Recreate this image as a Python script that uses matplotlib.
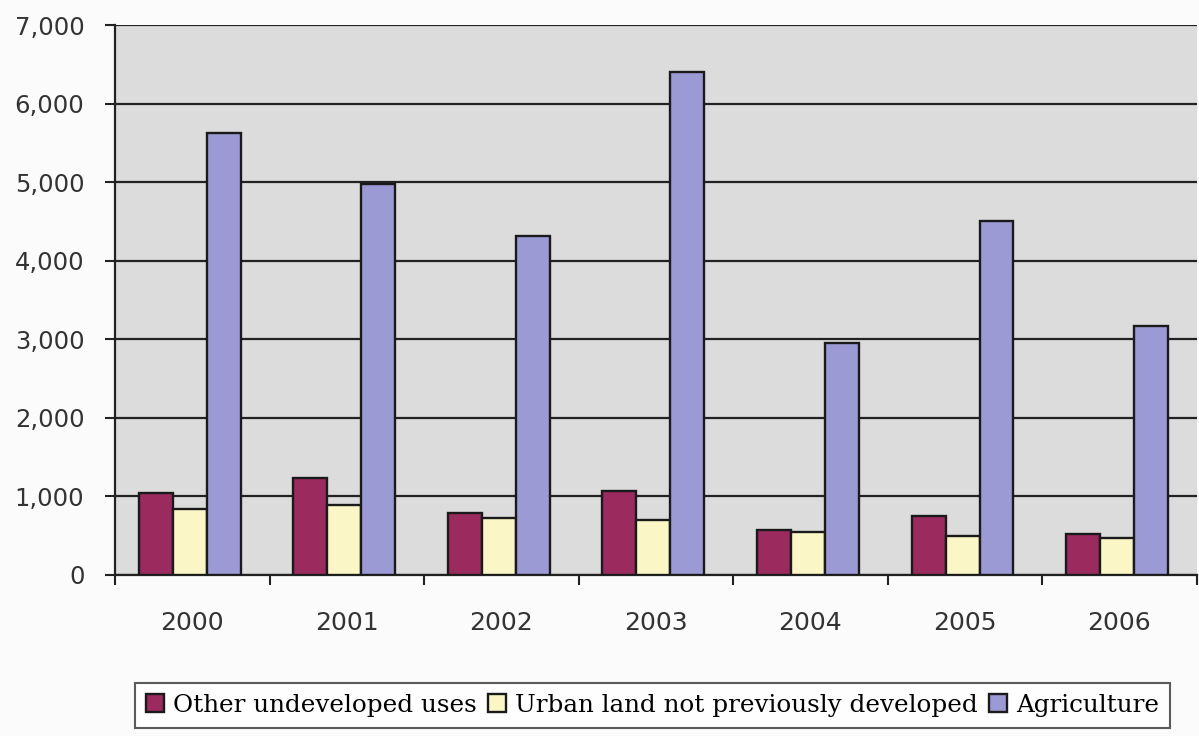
import numpy as np
import matplotlib.pyplot as plt
from matplotlib.ticker import FuncFormatter, FixedLocator

years = ["2000", "2001", "2002", "2003", "2004", "2005", "2006"]
other_undeveloped = [1045, 1235, 790, 1065, 570, 755, 525]
urban_not_developed = [840, 895, 730, 695, 545, 490, 470]
agriculture = [5620, 4980, 4315, 6400, 2950, 4510, 3170]

series = [
    ("Other undeveloped uses", other_undeveloped, "#9b2a5f"),
    ("Urban land not previously developed", urban_not_developed, "#fbf6c6"),
    ("Agriculture", agriculture, "#9c9ad4"),
]

fig = plt.figure(figsize=(11.99, 7.36), dpi=100, facecolor="#fbfbfb")
ax = fig.add_axes([0.0959, 0.2188, 0.9021, 0.7472])
ax.set_facecolor("#dcdcdc")

x = np.arange(len(years))
w = 0.22
for i, (label, vals, color) in enumerate(series):
    ax.bar(x + (i - 1) * w - 0.015, vals, width=w, color=color,
           edgecolor="#1a1a1a", linewidth=1.7, label=label, zorder=3)

ax.set_ylim(0, 7000)
ax.set_xlim(-0.5, len(years) - 0.5)
ax.set_yticks(np.arange(0, 7001, 1000))
ax.yaxis.set_major_formatter(FuncFormatter(lambda v, p: f"{int(v):,}"))
ax.grid(axis="y", color="#222222", linewidth=1.6, zorder=1)
ax.set_axisbelow(True)

ax.set_xticks(x)
ax.set_xticklabels(years)
ax.xaxis.set_minor_locator(FixedLocator(np.arange(-0.5, len(years), 1.0)))
ax.tick_params(axis="x", which="major", length=0, pad=26, labelsize=18,
               labelcolor="#333333")
ax.tick_params(axis="x", which="minor", length=7, width=1.5, color="#222222")
ax.tick_params(axis="y", length=7, width=1.5, color="#222222", pad=15,
               labelsize=17.5, labelcolor="#333333")

for side in ("top", "right"):
    ax.spines[side].set_visible(False)
for side in ("left", "bottom"):
    ax.spines[side].set_color("#222222")
    ax.spines[side].set_linewidth(1.6)

leg = fig.legend(loc="center", bbox_to_anchor=(0.544, 0.042), ncol=3,
                 frameon=True, fancybox=False, edgecolor="#333333",
                 prop={"family": "DejaVu Serif", "size": 17.7},
                 handlelength=0.75, handleheight=0.75, handletextpad=0.35,
                 columnspacing=0.45, borderpad=0.45, borderaxespad=0)
leg.get_frame().set_linewidth(1.5)
leg.get_frame().set_facecolor("white")

fig.savefig("out.png", dpi=100, facecolor=fig.get_facecolor())
